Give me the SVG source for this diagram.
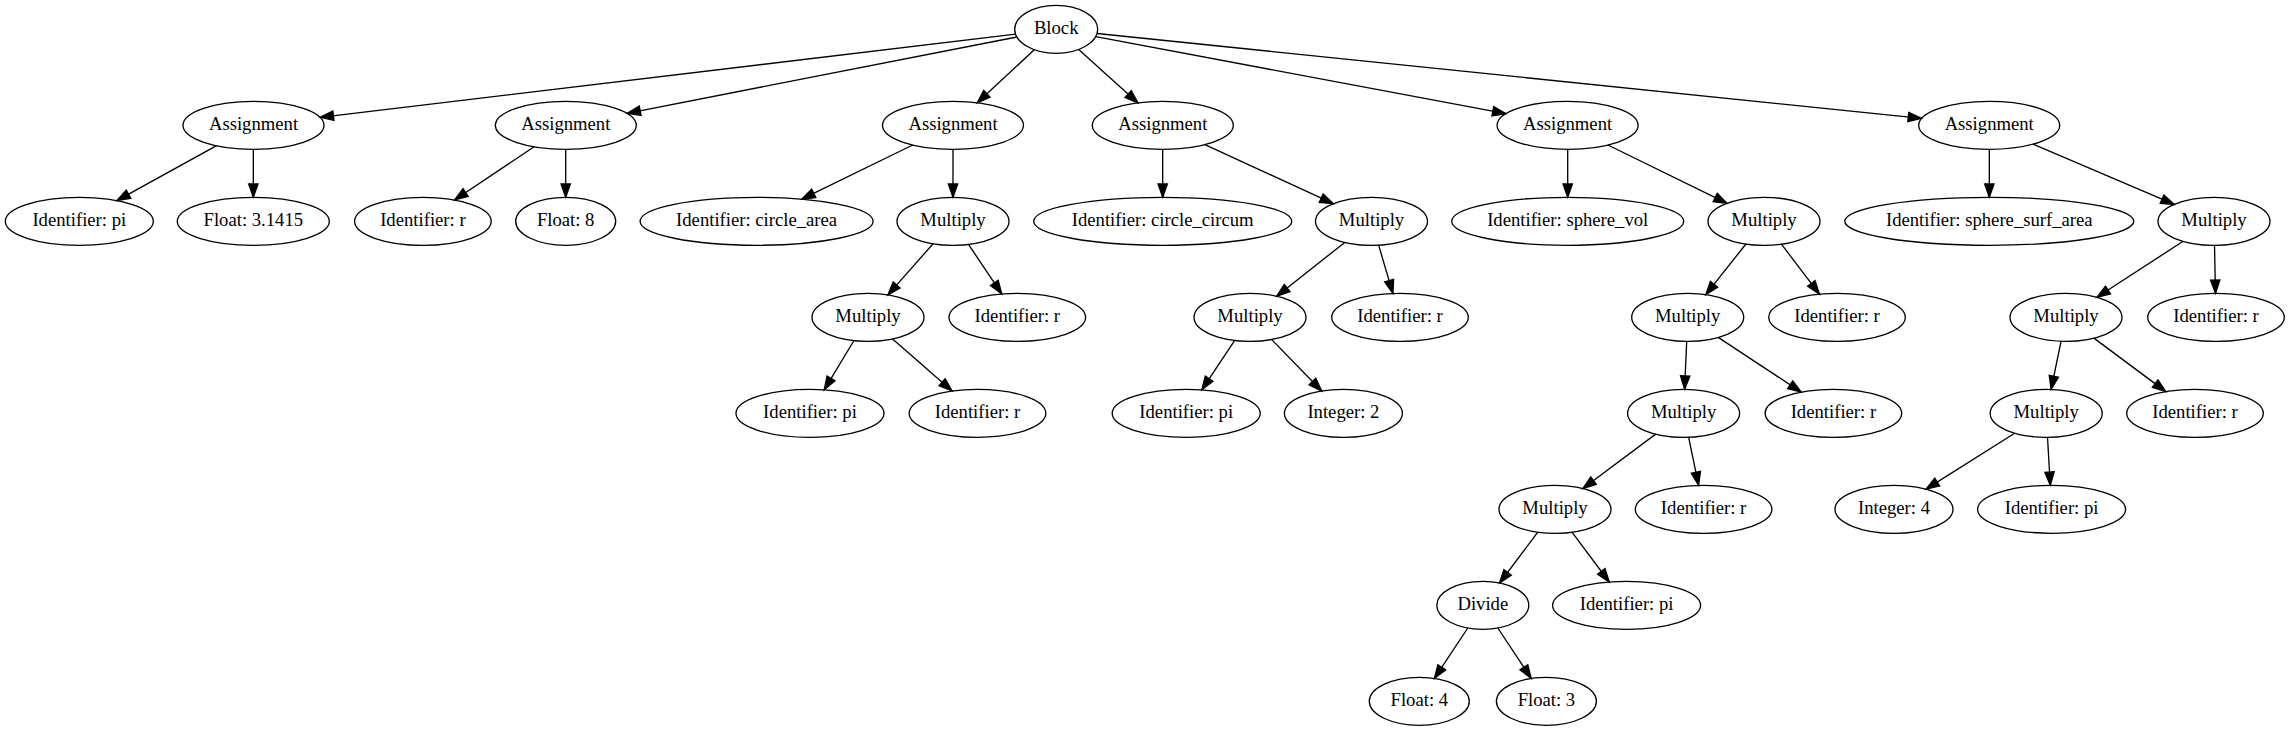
<svg xmlns="http://www.w3.org/2000/svg" width="2289" height="731" viewBox="0 0 2289 731">
<style>
.n ellipse{fill:none;stroke:#000;stroke-width:1.33}
.n text{font-size:18.67px;text-anchor:middle;fill:#000}
#edges line{stroke:#000;stroke-width:1.33;marker-end:url(#arr)}
</style>
<defs>
<marker id="arr" markerUnits="userSpaceOnUse" markerWidth="16" markerHeight="12" refX="13.3" refY="4.67" orient="auto" overflow="visible">
<path d="M0,0 L13.3,4.67 L0,9.33 z" fill="#000" stroke="#000" stroke-width="1.33"/>
</marker>
</defs>
<rect width="2289" height="731" fill="#fff"/>
<g id="edges">
<line x1="1015.6" y1="34.2" x2="320.2" y2="117.3"/>
<line x1="1016.9" y1="37.0" x2="627.1" y2="113.3"/>
<line x1="1034.3" y1="49.7" x2="977.2" y2="102.8"/>
<line x1="1078.7" y1="49.5" x2="1138.0" y2="102.9"/>
<line x1="1095.7" y1="36.7" x2="1505.9" y2="113.7"/>
<line x1="1097.1" y1="33.5" x2="1921.5" y2="118.4"/>
<line x1="216.6" y1="145.7" x2="116.9" y2="200.6"/>
<line x1="253.3" y1="149.3" x2="253.3" y2="197.3"/>
<line x1="534.1" y1="146.7" x2="454.6" y2="200.0"/>
<line x1="565.7" y1="149.3" x2="565.7" y2="197.3"/>
<line x1="912.7" y1="145.0" x2="801.8" y2="199.2"/>
<line x1="953" y1="149.3" x2="953" y2="197.3"/>
<line x1="1162.7" y1="149.3" x2="1162.7" y2="197.3"/>
<line x1="1204.9" y1="144.6" x2="1333.3" y2="203.7"/>
<line x1="1567.7" y1="149.3" x2="1567.7" y2="197.3"/>
<line x1="1607.9" y1="145.0" x2="1727.1" y2="203.3"/>
<line x1="1989.3" y1="149.3" x2="1989.3" y2="197.3"/>
<line x1="2033.0" y1="144.1" x2="2174.3" y2="204.4"/>
<line x1="933.1" y1="243.7" x2="887.9" y2="294.9"/>
<line x1="968.5" y1="244.4" x2="1001.7" y2="293.9"/>
<line x1="1344.8" y1="242.4" x2="1276.7" y2="296.2"/>
<line x1="1378.6" y1="245.1" x2="1392.9" y2="293.4"/>
<line x1="1745.9" y1="244.0" x2="1705.8" y2="294.6"/>
<line x1="1781.4" y1="244.1" x2="1819.4" y2="294.1"/>
<line x1="2183.1" y1="241.3" x2="2096.9" y2="297.3"/>
<line x1="2214.5" y1="245.3" x2="2215.5" y2="293.3"/>
<line x1="854.0" y1="340.5" x2="824.2" y2="389.8"/>
<line x1="892.6" y1="338.9" x2="952.1" y2="391.0"/>
<line x1="1234.7" y1="340.4" x2="1201.8" y2="389.8"/>
<line x1="1271.5" y1="339.4" x2="1321.7" y2="391.0"/>
<line x1="1686.7" y1="341.3" x2="1684.6" y2="389.3"/>
<line x1="1718.2" y1="337.4" x2="1801.3" y2="392.1"/>
<line x1="2061.1" y1="341.2" x2="2051.1" y2="389.4"/>
<line x1="2093.9" y1="338.1" x2="2165.8" y2="391.6"/>
<line x1="1655.7" y1="434.1" x2="1582.9" y2="488.5"/>
<line x1="1688.6" y1="437.2" x2="1698.6" y2="485.4"/>
<line x1="2014.7" y1="433.2" x2="1926.0" y2="489.1"/>
<line x1="2047.5" y1="437.3" x2="2050.3" y2="485.3"/>
<line x1="1537.8" y1="532.1" x2="1499.6" y2="583.0"/>
<line x1="1572.0" y1="532.2" x2="1609.2" y2="582.0"/>
<line x1="1467.8" y1="628.0" x2="1434.4" y2="678.4"/>
<line x1="1497.8" y1="628.0" x2="1531.2" y2="678.4"/>
</g>
<g id="nodes" font-family="Liberation Serif, Times New Roman, serif">
<g id="block" class="n"><ellipse cx="1056.2" cy="29.3" rx="41.5" ry="24"/><text x="1056.2" y="34.3">Block</text></g>
<g id="assign1" class="n"><ellipse cx="253.5" cy="125.3" rx="70.5" ry="24"/><text x="253.5" y="130.3">Assignment</text></g>
<g id="assign2" class="n"><ellipse cx="565.8" cy="125.3" rx="70.5" ry="24"/><text x="565.8" y="130.3">Assignment</text></g>
<g id="assign3" class="n"><ellipse cx="953" cy="125.3" rx="70.5" ry="24"/><text x="953" y="130.3">Assignment</text></g>
<g id="assign4" class="n"><ellipse cx="1162.8" cy="125.3" rx="70.5" ry="24"/><text x="1162.8" y="130.3">Assignment</text></g>
<g id="assign5" class="n"><ellipse cx="1567.6" cy="125.3" rx="70.5" ry="24"/><text x="1567.6" y="130.3">Assignment</text></g>
<g id="assign6" class="n"><ellipse cx="1989.2" cy="125.3" rx="70.5" ry="24"/><text x="1989.2" y="130.3">Assignment</text></g>
<g id="id_pi_1" class="n"><ellipse cx="79.3" cy="221.3" rx="74" ry="24"/><text x="79.3" y="226.3">Identifier: pi</text></g>
<g id="float_31415" class="n"><ellipse cx="253.3" cy="221.3" rx="76" ry="24"/><text x="253.3" y="226.3">Float: 3.1415</text></g>
<g id="id_r_1" class="n"><ellipse cx="422.9" cy="221.3" rx="68.3" ry="24"/><text x="422.9" y="226.3">Identifier: r</text></g>
<g id="float_8" class="n"><ellipse cx="565.7" cy="221.3" rx="50" ry="24"/><text x="565.7" y="226.3">Float: 8</text></g>
<g id="id_circle_area" class="n"><ellipse cx="756.6" cy="221.3" rx="116.5" ry="24"/><text x="756.6" y="226.3">Identifier: circle_area</text></g>
<g id="mul_a3" class="n"><ellipse cx="953" cy="221.3" rx="56" ry="24"/><text x="953" y="226.3">Multiply</text></g>
<g id="id_circle_circum" class="n"><ellipse cx="1162.7" cy="221.3" rx="129" ry="24"/><text x="1162.7" y="226.3">Identifier: circle_circum</text></g>
<g id="mul_a4" class="n"><ellipse cx="1371.5" cy="221.3" rx="56" ry="24"/><text x="1371.5" y="226.3">Multiply</text></g>
<g id="id_sphere_vol" class="n"><ellipse cx="1567.7" cy="221.3" rx="116" ry="24"/><text x="1567.7" y="226.3">Identifier: sphere_vol</text></g>
<g id="mul_a5" class="n"><ellipse cx="1764" cy="221.3" rx="56" ry="24"/><text x="1764" y="226.3">Multiply</text></g>
<g id="id_sphere_surf_area" class="n"><ellipse cx="1989.3" cy="221.3" rx="144.5" ry="24"/><text x="1989.3" y="226.3">Identifier: sphere_surf_area</text></g>
<g id="mul_a6" class="n"><ellipse cx="2214" cy="221.3" rx="56" ry="24"/><text x="2214" y="226.3">Multiply</text></g>
<g id="mul_b1" class="n"><ellipse cx="868" cy="317.3" rx="56" ry="24"/><text x="868" y="322.3">Multiply</text></g>
<g id="id_r_b2" class="n"><ellipse cx="1017.3" cy="317.3" rx="68.3" ry="24"/><text x="1017.3" y="322.3">Identifier: r</text></g>
<g id="mul_b3" class="n"><ellipse cx="1250" cy="317.3" rx="56" ry="24"/><text x="1250" y="322.3">Multiply</text></g>
<g id="id_r_b4" class="n"><ellipse cx="1400" cy="317.3" rx="68.3" ry="24"/><text x="1400" y="322.3">Identifier: r</text></g>
<g id="mul_b5" class="n"><ellipse cx="1687.7" cy="317.3" rx="56" ry="24"/><text x="1687.7" y="322.3">Multiply</text></g>
<g id="id_r_b6" class="n"><ellipse cx="1837" cy="317.3" rx="68.3" ry="24"/><text x="1837" y="322.3">Identifier: r</text></g>
<g id="mul_b7" class="n"><ellipse cx="2066" cy="317.3" rx="56" ry="24"/><text x="2066" y="322.3">Multiply</text></g>
<g id="id_r_b8" class="n"><ellipse cx="2216" cy="317.3" rx="68.3" ry="24"/><text x="2216" y="322.3">Identifier: r</text></g>
<g id="id_pi_c1" class="n"><ellipse cx="810" cy="413.3" rx="74" ry="24"/><text x="810" y="418.3">Identifier: pi</text></g>
<g id="id_r_c2" class="n"><ellipse cx="977.5" cy="413.3" rx="68.3" ry="24"/><text x="977.5" y="418.3">Identifier: r</text></g>
<g id="id_pi_c3" class="n"><ellipse cx="1186.2" cy="413.3" rx="74" ry="24"/><text x="1186.2" y="418.3">Identifier: pi</text></g>
<g id="int_2" class="n"><ellipse cx="1343.4" cy="413.3" rx="59" ry="24"/><text x="1343.4" y="418.3">Integer: 2</text></g>
<g id="mul_c5" class="n"><ellipse cx="1683.6" cy="413.3" rx="56" ry="24"/><text x="1683.6" y="418.3">Multiply</text></g>
<g id="id_r_c6" class="n"><ellipse cx="1833.4" cy="413.3" rx="68.3" ry="24"/><text x="1833.4" y="418.3">Identifier: r</text></g>
<g id="mul_c7" class="n"><ellipse cx="2046.2" cy="413.3" rx="56" ry="24"/><text x="2046.2" y="418.3">Multiply</text></g>
<g id="id_r_c8" class="n"><ellipse cx="2195" cy="413.3" rx="68.3" ry="24"/><text x="2195" y="418.3">Identifier: r</text></g>
<g id="mul_d1" class="n"><ellipse cx="1555" cy="509.3" rx="56" ry="24"/><text x="1555" y="514.3">Multiply</text></g>
<g id="id_r_d2" class="n"><ellipse cx="1703.6" cy="509.3" rx="68.3" ry="24"/><text x="1703.6" y="514.3">Identifier: r</text></g>
<g id="int_4" class="n"><ellipse cx="1894" cy="509.3" rx="59" ry="24"/><text x="1894" y="514.3">Integer: 4</text></g>
<g id="id_pi_d4" class="n"><ellipse cx="2051.6" cy="509.3" rx="74" ry="24"/><text x="2051.6" y="514.3">Identifier: pi</text></g>
<g id="divide" class="n"><ellipse cx="1482.8" cy="605.3" rx="46" ry="24"/><text x="1482.8" y="610.3">Divide</text></g>
<g id="id_pi_e2" class="n"><ellipse cx="1626.6" cy="605.3" rx="74" ry="24"/><text x="1626.6" y="610.3">Identifier: pi</text></g>
<g id="float_4" class="n"><ellipse cx="1419.3" cy="701.3" rx="50" ry="24"/><text x="1419.3" y="706.3">Float: 4</text></g>
<g id="float_3" class="n"><ellipse cx="1546.4" cy="701.3" rx="50" ry="24"/><text x="1546.4" y="706.3">Float: 3</text></g>
</g>
</svg>
